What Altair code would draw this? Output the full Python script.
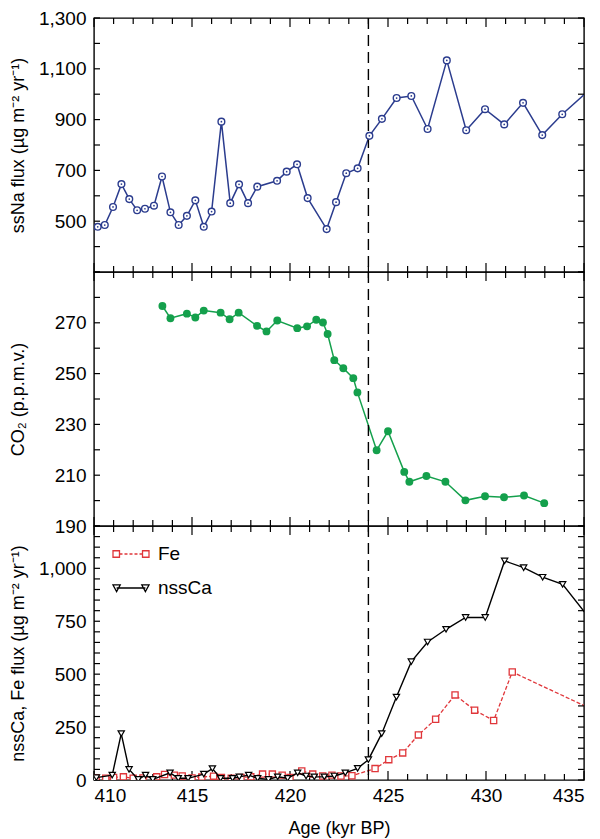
import altair as alt
import pandas as pd

# ---------------- data ----------------
ages_na = [409.8, 410.19, 410.55, 410.97, 411.4, 411.8, 412.2, 412.6, 413.06, 413.47, 413.9,
           414.32, 414.74, 415.17, 415.6, 416.0, 416.5, 416.95, 417.4, 417.86, 418.33, 419.34,
           419.83, 420.36, 420.9, 421.87, 422.35, 422.87, 423.45, 424.05, 424.69, 425.44,
           426.19, 427.02, 428.0, 428.99, 429.95, 430.93, 431.89, 432.87, 433.89, 435.5]
vals_na = [455, 478, 485, 556, 646, 587, 543, 549, 561, 676, 535, 485, 521, 582, 478, 538,
           892, 571, 645, 571, 636, 659, 695, 724, 591, 469, 575, 689, 708, 836, 903, 985,
           993, 863, 1133, 858, 941, 881, 966, 839, 921, 1033]

ages_co2 = [413.49, 413.9, 414.74, 415.17, 415.6, 416.46, 416.92, 417.38, 418.32, 418.8,
            419.35, 420.37, 420.87, 421.34, 421.68, 421.92, 422.26, 422.72, 423.23, 423.44,
            424.42, 425.0, 425.83, 426.09, 426.96, 427.93, 428.95, 429.95, 430.92, 431.94, 432.97]
vals_co2 = [276.6, 271.8, 273.6, 272.1, 274.8, 274.0, 271.4, 274.0, 268.8, 266.6, 270.9,
            267.9, 268.6, 271.2, 270.1, 265.6, 255.3, 252.1, 248.2, 242.6, 219.8, 227.3,
            211.3, 207.4, 209.7, 207.4, 200.1, 201.7, 201.3, 202.0, 199.0]

ages_fe = [410.1, 410.6, 411.0, 411.5, 412.0, 412.5, 413.2, 413.6, 414.1, 414.5, 415.0, 415.5,
           416.1, 416.5, 417.0, 417.5, 418.0, 418.6, 419.1, 419.6, 420.0, 420.6, 421.16, 421.67,
           422.14, 422.6, 423.16, 424.34, 425.04, 425.75, 426.55, 427.43, 428.42, 429.42,
           430.39, 431.34, 435.5]
vals_fe = [10, 8, 12, 15, 8, 10, 15, 26, 23, 19, 10, 14, 18, 12, 8, 12, 15, 28, 28, 23, 12,
           43, 28, 19, 23, 19, 20, 54, 96, 128, 213, 287, 402, 330, 281, 510, 330]

ages_ca = [410.12, 410.93, 411.39, 411.79, 412.26, 412.63, 413.0, 413.88, 414.3, 414.8, 415.6,
           416.04, 416.46, 417.07, 417.41, 417.89, 418.35, 418.9, 419.37, 419.88, 420.39,
           420.82, 421.24, 421.75, 422.26, 422.82, 423.45, 424.0, 424.68, 425.43, 426.19,
           427.02, 427.96, 428.96, 429.96, 430.95, 431.92, 432.89, 433.91, 435.5]
vals_ca = [11, 23, 219, 50, 3, 23, 3, 34, 8, 8, 28, 54, 8, 8, 15, 23, 8, 3, 15, 8, 34, 19,
           15, 15, 19, 34, 55, 96, 219, 392, 559, 652, 712, 768, 768, 1035, 1003, 958, 924, 738]

transition_age = [424]

x_domain = [410, 435]
x_labels = [410, 415, 420, 425, 430, 435]
x_minor = [a for a in range(410, 436) if a % 5 != 0]

na_domain = [300, 1300]
na_ticks = list(range(300, 1301, 100))
na_labels = [500, 700, 900, 1100, 1300]

co2_domain = [190, 290]
co2_ticks = list(range(190, 291, 10))
co2_labels = [190, 210, 230, 250, 270]

dust_domain = [0, 1200]
dust_ticks = list(range(0, 1201, 50))
dust_labels = [0, 250, 500, 750, 1000]

series_names = ["Fe", "nssCa"]

# ---------------- style ----------------
FONT = "Liberation Sans"
BLUE = "#2b3c8e"
GREEN = "#14a04c"
RED = "#e0363a"
W = 490
H = 254
TICK_MINOR = 6
TICK_MAJOR = 9
TICK_Y = 6


def xs(axis=None):
    return alt.X("age:Q", scale=alt.Scale(domain=x_domain, nice=False, zero=False), axis=axis)


def ys(domain, axis=None):
    return alt.Y("val:Q", scale=alt.Scale(domain=domain, nice=False, zero=False), axis=axis)


def y_label_axis(values, title, fmt):
    return alt.Axis(orient="left", values=values, ticks=False, domain=False, grid=False,
                    labelPadding=8, format=fmt, title=title, titleX=-76, titleY=H / 2,
                    titleAngle=270, titleAlign="center", titleBaseline="middle")


x_label_axis = alt.Axis(orient="bottom", values=x_labels, ticks=False, domain=False, grid=False,
                        labelPadding=6, format="d", title="Age (kyr BP)", titlePadding=14)


def rule_layer():
    return alt.Chart(pd.DataFrame({"age": transition_age})).mark_rule(
        color="black", strokeDash=[11, 6], strokeWidth=1.4).encode(x=xs())


def frame_ticks(y_values, y_domain):
    """Inward-pointing ticks on all four sides of a panel."""
    major_df = pd.DataFrame({"age": x_labels})
    minor_df = pd.DataFrame({"age": x_minor})
    ydf = pd.DataFrame({"val": y_values})
    return [
        alt.Chart(major_df).mark_rule(color="black", strokeWidth=1.2).encode(
            x=xs(), y=alt.value(0), y2=alt.value(TICK_MAJOR)),
        alt.Chart(minor_df).mark_rule(color="black", strokeWidth=1.2).encode(
            x=xs(), y=alt.value(0), y2=alt.value(TICK_MINOR)),
        alt.Chart(major_df).mark_rule(color="black", strokeWidth=1.2).encode(
            x=xs(), y=alt.value(H - TICK_MAJOR), y2=alt.value(H)),
        alt.Chart(minor_df).mark_rule(color="black", strokeWidth=1.2).encode(
            x=xs(), y=alt.value(H - TICK_MINOR), y2=alt.value(H)),
        alt.Chart(ydf).mark_rule(color="black", strokeWidth=1.2).encode(
            y=ys(y_domain), x=alt.value(0), x2=alt.value(TICK_Y)),
        alt.Chart(ydf).mark_rule(color="black", strokeWidth=1.2).encode(
            y=ys(y_domain), x=alt.value(W - TICK_Y), x2=alt.value(W)),
    ]


def panel(*layers):
    return alt.layer(*layers).resolve_axis(x="independent", y="independent").properties(
        width=W, height=H)


# ---------------- top panel: ssNa ----------------
na_df = pd.DataFrame({"age": ages_na, "val": vals_na})
na_line = alt.Chart(na_df).mark_line(color=BLUE, strokeWidth=1.5, clip=True).encode(
    x=xs(), y=ys(na_domain, y_label_axis(na_labels, "ssNa flux (µg m⁻² yr⁻¹)", ",d")))
na_pts = alt.Chart(na_df).mark_point(shape="circle", size=45, filled=False, color=BLUE,
                                     fill="white", fillOpacity=1, strokeWidth=1.4, opacity=1,
                                     clip=True).encode(x=xs(), y=ys(na_domain))
na_dots = alt.Chart(na_df).mark_point(shape="circle", size=3, filled=True, color=BLUE,
                                      opacity=1, clip=True).encode(x=xs(), y=ys(na_domain))
top = panel(na_line, *frame_ticks(na_ticks, na_domain), rule_layer(), na_pts, na_dots)

# ---------------- middle panel: CO2 ----------------
co2_df = pd.DataFrame({"age": ages_co2, "val": vals_co2})
co2_line = alt.Chart(co2_df).mark_line(color=GREEN, strokeWidth=1.5, clip=True).encode(
    x=xs(), y=ys(co2_domain, y_label_axis(co2_labels, "CO₂ (p.p.m.v.)", "d")))
co2_pts = alt.Chart(co2_df).mark_point(shape="circle", size=62, filled=True, color=GREEN,
                                       opacity=1, clip=True).encode(x=xs(), y=ys(co2_domain))
middle = panel(co2_line, *frame_ticks(co2_ticks, co2_domain), rule_layer(), co2_pts)

# ---------------- bottom panel: Fe, nssCa ----------------
fe_df = pd.DataFrame({"age": ages_fe, "val": vals_fe, "series": series_names[0]})
ca_df = pd.DataFrame({"age": ages_ca, "val": vals_ca, "series": series_names[1]})
dust_df = pd.concat([fe_df, ca_df], ignore_index=True)


def _square(cx, cy, h):
    return f"M{cx - h:.3f},{cy - h:.3f}H{cx + h:.3f}V{cy + h:.3f}H{cx - h:.3f}Z"


def _tri_down(cx, h):
    return f"M{cx - h:.3f},{-0.17:.3f}L{cx + h:.3f},{-0.17:.3f}L{cx:.3f},{0.2:.3f}Z"


fe_path = _square(-0.82, 0, 0.18) + _square(0.82, 0, 0.18)
pos = -0.64
for _ in range(5):
    fe_path += f"M{pos:.3f},0H{pos + 0.167:.3f}"
    pos += 0.167 + 0.111
ca_path = "M-0.8,0H0.8" + _tri_down(-0.8, 0.2) + _tri_down(0.8, 0.2)

legend = alt.Legend(orient="none", legendX=18, legendY=9, title=None, symbolSize=1296,
                    symbolStrokeWidth=1.3, symbolOpacity=1, symbolFillColor="white",
                    labelFont=FONT, labelFontSize=19, labelColor="black", labelOffset=8,
                    rowPadding=5, padding=0)

fe_line = alt.Chart(fe_df).mark_line(color=RED, strokeDash=[4, 2], strokeWidth=1.3,
                                     clip=True).encode(
    x=xs(x_label_axis),
    y=ys(dust_domain, y_label_axis(dust_labels, "nssCa, Fe flux (µg m⁻² yr⁻¹)", ",d")))
fe_pts = alt.Chart(fe_df).mark_point(shape="square", size=38, filled=False, color=RED,
                                     fill="white", fillOpacity=1, strokeWidth=1.3, opacity=1,
                                     clip=True).encode(x=xs(), y=ys(dust_domain))
ca_line = alt.Chart(ca_df).mark_line(color="black", strokeWidth=1.4, clip=True).encode(
    x=xs(), y=ys(dust_domain))
ca_pts = alt.Chart(ca_df).mark_point(shape="triangle-down", size=40, filled=False,
                                     color="black", fill="white", fillOpacity=1,
                                     strokeWidth=1.2, opacity=1, clip=True).encode(
    x=xs(), y=ys(dust_domain))
dust_legend = alt.Chart(dust_df).mark_point(opacity=0, filled=False, clip=True).encode(
    x=xs(),
    y=ys(dust_domain),
    color=alt.Color("series:N", scale=alt.Scale(domain=series_names, range=[RED, "black"]),
                    legend=legend),
    shape=alt.Shape("series:N", scale=alt.Scale(domain=series_names, range=[fe_path, ca_path]),
                    legend=legend))
bottom = panel(fe_line, *frame_ticks(dust_ticks, dust_domain), rule_layer(), fe_pts,
               ca_line, ca_pts, dust_legend)

chart = alt.vconcat(top, middle, bottom, spacing=0, bounds="flush").resolve_scale(
    color="independent", shape="independent"
).properties(
    padding={"left": 0, "top": 0, "right": 2, "bottom": 0}
).configure_axis(
    labelFont=FONT, labelFontSize=19, labelColor="black",
    titleFont=FONT, titleFontSize=18, titleFontWeight="normal", titleColor="black",
).configure_view(stroke="black", strokeWidth=1.4)

chart.save("out.html", embed_options={"renderer": "svg", "actions": False})
